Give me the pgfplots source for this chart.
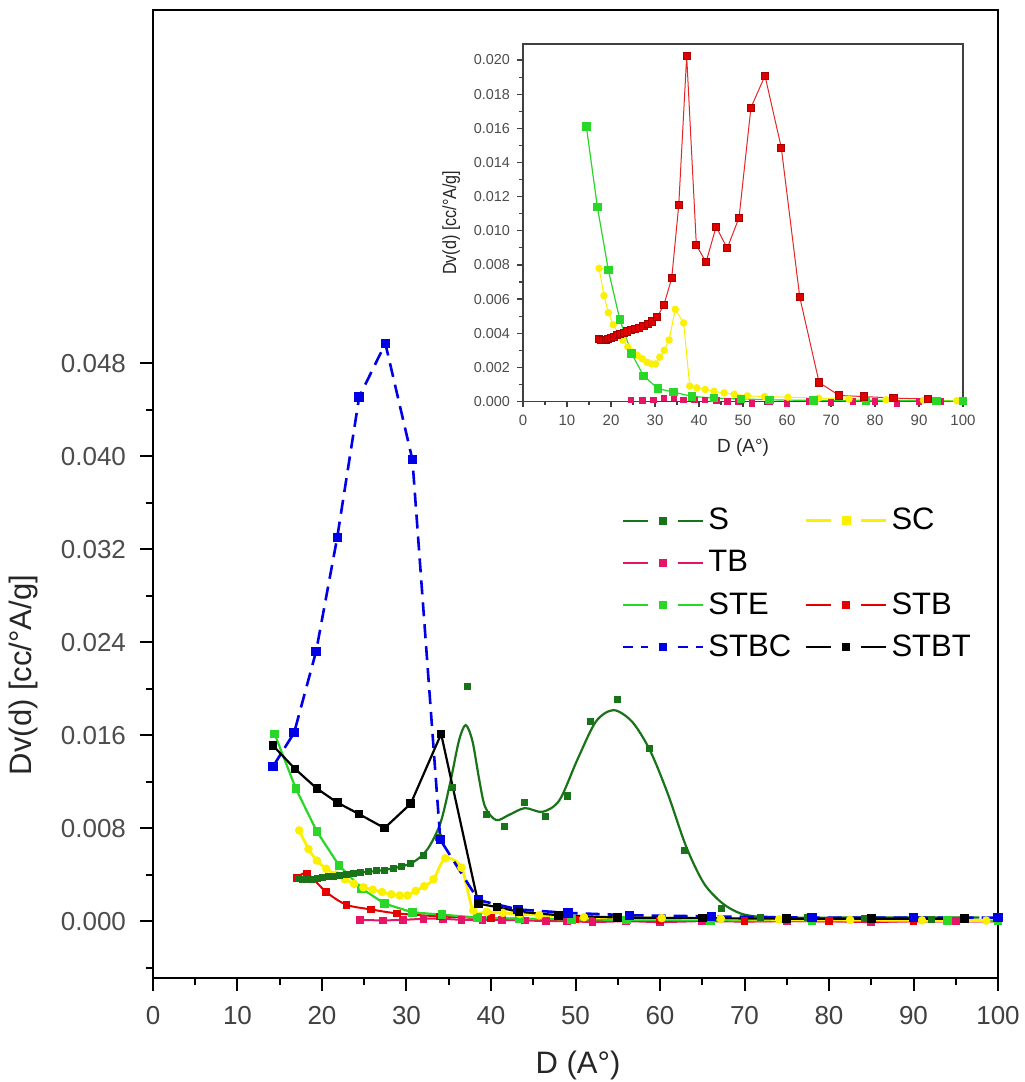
\documentclass[border=0pt]{standalone}
\usepackage{fontspec}
\setmainfont{Liberation Sans}
\newfontfamily\narrowfont{Liberation Sans}[FakeStretch=0.85]
\usepackage{pgfplots}
\usepackage{pgfplotstable}
\pgfplotsset{compat=1.18}

\definecolor{Sgreen}{RGB}{25,115,25}
\definecolor{STEgreen}{RGB}{40,215,40}
\definecolor{SCyellow}{RGB}{250,240,0}
\definecolor{TBpink}{RGB}{230,20,100}
\definecolor{STBred}{RGB}{230,0,0}
\definecolor{STBCblue}{RGB}{0,0,230}
\definecolor{inred}{RGB}{225,0,0}

% S measured points (markers)
\pgfplotstableread{
x y
17.2 0.00365
17.7 0.00360
18.2 0.00358
18.8 0.00360
19.4 0.00365
20.0 0.00372
20.7 0.00380
21.4 0.00388
22.1 0.00395
22.9 0.00402
23.7 0.00410
24.6 0.00418
25.5 0.00425
26.4 0.00432
27.4 0.00440
28.4 0.00452
29.4 0.00468
30.5 0.00495
32.0 0.00564
33.8 0.00722
35.4 0.01151
37.2 0.02023
39.4 0.00915
41.6 0.00816
43.9 0.01024
46.4 0.00897
49.1 0.01077
51.8 0.01721
55.0 0.01908
58.7 0.01487
62.9 0.00611
67.3 0.00111
71.9 0.00035
77.5 0.00029
84.2 0.00020
92.1 0.00014
}\Sdata

% S fitted curve (main plot)
\pgfplotstableread{
x y
16.8 0.00358
19.4 0.00381
23.3 0.00410
27.3 0.00439
30.5 0.00496
32.4 0.00610
34.0 0.00840
35.2 0.01200
36.2 0.01550
37.0 0.01686
37.8 0.01550
38.6 0.01220
39.3 0.00983
40.6 0.00869
42.1 0.00912
44.0 0.00972
46.1 0.00940
48.1 0.01040
50.2 0.01385
52.4 0.01715
54.5 0.01815
56.7 0.01715
58.8 0.01471
60.9 0.01100
63.1 0.00640
65.2 0.00324
67.4 0.00152
69.5 0.00066
71.7 0.00037
75.0 0.00030
85.0 0.00030
97.8 0.00030
}\Sfit

\pgfplotstableread{
x y
17.3 0.0078
18.4 0.0062
19.4 0.0052
20.5 0.0045
21.6 0.0040
22.7 0.0036
23.8 0.0032
24.9 0.0029
26.0 0.0027
27.1 0.0025
28.2 0.0023
29.2 0.0022
30.1 0.0022
31.1 0.0026
32.1 0.0030
33.2 0.0036
34.6 0.0054
36.5 0.0046
37.9 0.0009
39.5 0.0008
41.4 0.0007
43.4 0.0006
45.7 0.0005
48.0 0.00043
51.0 0.00033
54.9 0.00029
60.2 0.00025
67.2 0.00020
74.1 0.00014
82.5 0.00010
91.0 0.00006
98.6 0.00004
}\SCdata

\pgfplotstableread{
x y
24.5 0.0001
27.2 0.00005
29.6 0.0001
32.0 0.0002
34.3 0.0002
36.5 0.0001
39.0 0.0001
41.3 0.0001
44.0 0.00005
46.5 0.0
49.0 0.0
52.0 -0.0001
56.0 0.0
60.0 -0.0001
65.0 0.0
70.0 -0.00005
75.0 0.0
80.0 0.0
85.0 -0.0001
90.0 0.0
95.0 0.0
100.0 0.0
}\TBdata

\pgfplotstableread{
x y
14.4 0.0161
16.9 0.0114
19.4 0.0077
22.0 0.0048
24.7 0.0028
27.4 0.0015
30.7 0.00075
34.2 0.00055
38.4 0.0003
43.4 0.0002
49.5 0.00015
56.0 0.0001
66.0 0.00006
78.0 0.00004
94.0 0.00004
100.0 0.00003
}\STEdata

\pgfplotstableread{
x y
17.0 0.0037
18.2 0.0041
20.5 0.0025
22.9 0.0014
25.8 0.0010
28.9 0.00066
34.0 0.0004
40.0 0.00025
50.0 0.00012
60.0 0.00005
70.0 0.0
80.0 -0.00002
90.0 -0.00003
100.0 -0.00003
}\STBdata

\pgfplotstableread{
x y
14.2 0.0133
16.7 0.0162
19.3 0.0232
21.8 0.0330
24.4 0.0451
27.5 0.0497
30.7 0.0397
34.0 0.0070
38.5 0.0018
43.2 0.0010
49.1 0.0007
56.4 0.0005
66.1 0.0004
78.0 0.0003
90.0 0.0003
100.0 0.0003
}\STBCdata

\pgfplotstableread{
x y
14.2 0.0151
16.8 0.0131
19.4 0.0114
21.8 0.0102
24.4 0.0092
27.4 0.0080
30.5 0.0101
34.1 0.0161
38.5 0.0015
40.7 0.0012
43.3 0.0008
48.0 0.0005
55.0 0.0003
65.0 0.00025
75.0 0.0002
85.0 0.0002
96.0 0.0002
}\STBTdata

\begin{document}
\begin{tikzpicture}
\path[use as bounding box] (-76.5pt,-52pt) rectangle (435.5pt,489pt);

\begin{axis}[
  at={(0pt,0pt)}, anchor=south west,
  width=422.5pt, height=484pt, scale only axis,
  xmin=0, xmax=100, ymin=-0.0049, ymax=0.0784,
  xtick={0,10,...,100}, minor xtick={5,15,...,95},
  ytick={0,0.008,0.016,0.024,0.032,0.040,0.048},
  minor ytick={-0.004,0.004,0.012,0.020,0.028,0.036,0.044},
  tick align=outside, xtick pos=left, ytick pos=left,
  axis line style={line width=1.3pt},
  major tick length=6.5pt, minor tick length=3.5pt,
  every tick/.style={black, line width=1pt},
  scaled y ticks=false,
  yticklabel style={/pgf/number format/fixed, /pgf/number format/fixed zerofill, /pgf/number format/precision=3,
    /pgf/number format/assume math mode=true, font=\fontsize{13}{15}\selectfont, color=black!70, xshift=-3.5pt},
  xticklabel style={/pgf/number format/assume math mode=true, font=\fontsize{13}{15}\selectfont, color=black!75, yshift=-4pt},
  xlabel={D (A°)}, ylabel={Dv(d) [cc/°A/g]},
  xlabel style={at={(axis description cs:0.503,-0.0899)}, anchor=center, font=\fontsize{15.5}{18}\selectfont, color=black!85},
  ylabel style={at={(axis description cs:-0.1527,0.313)}, anchor=center, font=\fontsize{15.5}{18}\selectfont, color=black!85},
  legend columns=2,
  legend cell align=left,
  legend style={at={(0.548,0.494)}, anchor=north west, draw=none, fill=none,
    font=\fontsize{15.5}{18}\selectfont, row sep=4.8pt,
    nodes={inner xsep=2pt},
    /tikz/every even column/.append style={column sep=5pt}},
  legend image code/.code={
    \draw[#1, mark=none] (0pt,0pt) -- (12.5pt,0pt);
    \draw[#1, mark=none] (27.5pt,0pt) -- (40pt,0pt);
    \path[#1] plot coordinates {(20pt,0pt)};
  },
]
% legend entries
\addlegendimage{Sgreen, line width=1pt, mark=square*, mark size=1.5pt, mark options={solid}}
\addlegendentry{S}
\addlegendimage{SCyellow, line width=1.2pt, mark=square*, mark size=1.5pt, mark options={solid}}
\addlegendentry{SC}
\addlegendimage{TBpink, line width=1pt, mark=square*, mark size=1.5pt, mark options={solid}}
\addlegendentry{TB}
\addlegendimage{empty legend}
\addlegendentry{}
\addlegendimage{STEgreen, line width=1pt, mark=square*, mark size=1.5pt, mark options={solid}}
\addlegendentry{STE}
\addlegendimage{STBred, line width=1pt, mark=square*, mark size=1.5pt, mark options={solid}}
\addlegendentry{STB}
\addlegendimage{STBCblue, line width=1pt, dash pattern=on 5pt off 4pt, mark=square*, mark size=1.5pt, mark options={solid}}
\addlegendentry{STBC}
\addlegendimage{black, line width=1pt, mark=square*, mark size=1.5pt, mark options={solid}}
\addlegendentry{STBT}

\addplot[forget plot, TBpink, line width=1pt, mark=square*, mark size=1.4pt] table {\TBdata};
\addplot[forget plot, STBred, line width=1pt, smooth, tension=0.5, mark=square*, mark size=1.4pt] table {\STBdata};
\addplot[forget plot, STEgreen, line width=1.1pt, mark=square*, mark size=1.6pt] table {\STEdata};
\addplot[forget plot, SCyellow, line width=1.4pt, smooth, tension=0.5, mark=*, mark size=1.4pt] table {\SCdata};
\addplot[forget plot, Sgreen, line width=1.1pt, smooth, tension=0.5] table {\Sfit};
\addplot[forget plot, Sgreen, only marks, mark=square*, mark size=1.5pt] table {\Sdata};
\addplot[forget plot, STBCblue, line width=1.3pt, dash pattern=on 7pt off 4pt, mark=square*, mark size=1.7pt, mark options={solid}] table {\STBCdata};
\addplot[forget plot, black, line width=1.1pt, mark=square*, mark size=1.6pt] table {\STBTdata};
\end{axis}

% inset
\begin{axis}[
  at={(185pt,288.25pt)}, anchor=south west,
  width=220pt, height=178.75pt, scale only axis,
  xmin=0, xmax=100, ymin=0, ymax=0.02094,
  clip=false,
  axis background/.style={fill=white},
  xtick={0,10,...,100}, minor xtick={5,15,...,95},
  ytick={0,0.002,0.004,0.006,0.008,0.010,0.012,0.014,0.016,0.018,0.020},
  minor ytick={0.001,0.003,0.005,0.007,0.009,0.011,0.013,0.015,0.017,0.019},
  tick align=outside, xtick pos=left, ytick pos=left,
  axis line style={line width=0.9pt, black!75},
  major tick length=3pt, minor tick length=1.8pt,
  every tick/.style={black!75, line width=0.6pt},
  scaled y ticks=false,
  yticklabel style={/pgf/number format/fixed, /pgf/number format/fixed zerofill, /pgf/number format/precision=3,
    /pgf/number format/assume math mode=true, font=\fontsize{7.2}{8}\selectfont, color=black!70},
  xticklabel style={/pgf/number format/assume math mode=true, font=\fontsize{7.5}{8}\selectfont, color=black!70},
  xlabel={D (A°)}, ylabel={Dv(d) [cc/°A/g]},
  xlabel style={font=\fontsize{9.5}{11}\selectfont, color=black!85},
  ylabel style={font=\narrowfont\fontsize{9.5}{11}\selectfont, color=black!85},
]
\addplot[TBpink, line width=0.4pt, only marks, mark=square*, mark size=1.4pt] table {\TBdata};
\addplot[SCyellow, line width=0.5pt, mark=*, mark size=1.6pt] table {\SCdata};
\addplot[STEgreen, line width=0.6pt, mark=square*, mark size=1.8pt] table {\STEdata};
\addplot[inred!85, line width=0.5pt, mark=square*, mark size=1.8pt, mark options={fill=inred, draw=inred!75!black}] table {\Sdata};
\end{axis}
\end{tikzpicture}
\end{document}
